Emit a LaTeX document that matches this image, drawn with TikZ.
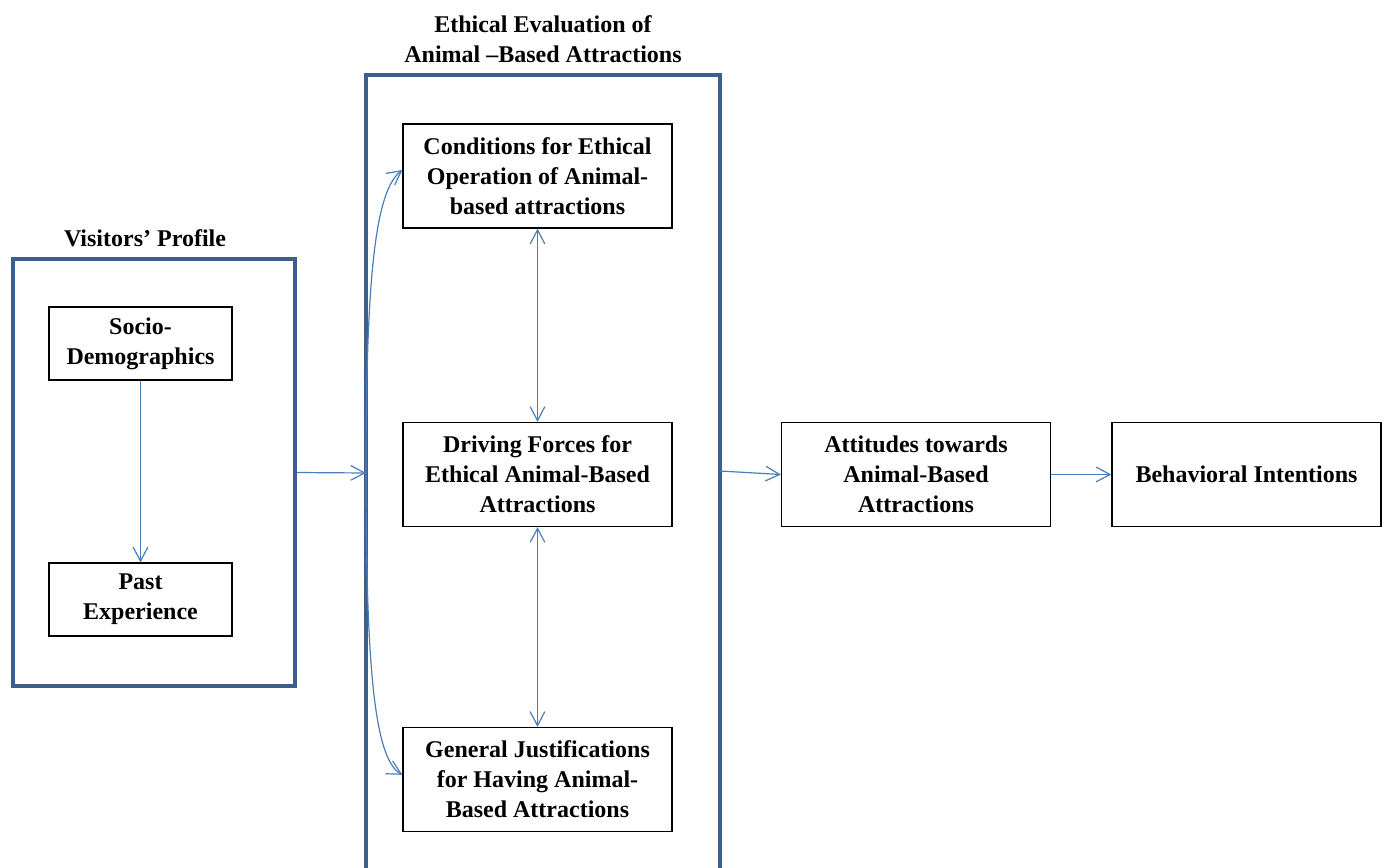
\documentclass[tikz,border=0pt]{standalone}
\usepackage{fontspec}
\setmainfont{Liberation Serif}
\usetikzlibrary{arrows.meta}
\definecolor{frameblue}{HTML}{3C5F8E}
\definecolor{arrowblue}{HTML}{4A7EBB}
\begin{document}
\begin{tikzpicture}[x=0.75pt,y=-0.75pt,
  every node/.style={font=\fontsize{18pt}{22.5pt}\selectfont\bfseries, align=center},
  smallbox/.style={draw=black, line width=0.9pt, inner sep=0pt},
  wbox/.style={smallbox, minimum width=201.75pt, minimum height=78pt},
  sbox/.style={smallbox, minimum width=137.25pt, minimum height=54.75pt},
  frame/.style={draw=frameblue, line width=3pt, inner sep=0pt},
  title/.style={inner sep=0pt},
  arr/.style={draw=arrowblue, line width=0.9pt, -{Straight Barb[length=10.5pt,width=11pt]}},
  arrb/.style={draw=arrowblue, line width=0.9pt, {Straight Barb[length=10.5pt,width=11pt]}-{Straight Barb[length=10.5pt,width=11pt]}}
]
\clip (0,0) rectangle (1387,867);
\fill[white] (0,0) rectangle (1387,867);

% frames
\node[frame, minimum width=211.5pt, minimum height=320.25pt] (vis) at (154,472.5) {};
\node[title] (vist) at (145,238) {Visitors’ Profile};
\node[frame, minimum width=265.5pt, minimum height=597.75pt] (eval) at (543,473.5) {};
\node[title] (evt) at (543,39) {Ethical Evaluation of\\Animal –Based Attractions};

% inner boxes
\node[sbox] (socio) at (140.5,343.5) {Socio-\\Demographics};
\node[sbox] (past) at (140.5,599.5) {Past\\Experience};
\node[wbox] (cond) at (537.5,176) {Conditions for Ethical\\Operation of Animal-\\based attractions};
\node[wbox] (drive) at (537.5,474.5) {Driving Forces for\\Ethical Animal-Based\\Attractions};
\node[wbox] (gen) at (537.5,779.5) {General Justifications\\for Having Animal-\\Based Attractions};
\node[wbox] (att) at (916,474.5) {Attitudes towards\\Animal-Based\\Attractions};
\node[wbox] (beh) at (1246.5,474.5) {Behavioral Intentions};

\coordinate (hub) at (366,473);
\coordinate (eout) at (720,471);

% connectors
\draw[arr] (socio.south) -- (past.north);
\draw[arr] (vis.east) -- (hub);
\draw[arr] (hub) .. controls (366,270) and (376,190) .. ([yshift=4.5pt]cond.west);
\draw[arr] (hub) .. controls (366,680) and (376,760) .. ([yshift=3.5pt]gen.west);
\draw[arrb] (cond.south) -- (drive.north);
\draw[arrb] (drive.south) -- (gen.north);
\draw[arr] (eout) -- (att.west);
\draw[arr] (att.east) -- (beh.west);
\end{tikzpicture}
\end{document}
